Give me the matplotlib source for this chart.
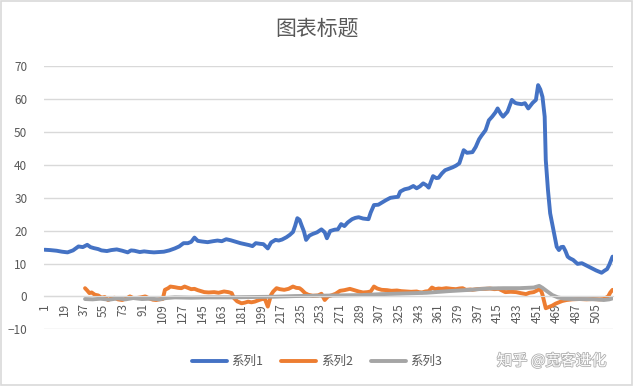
import matplotlib
matplotlib.use("Agg")
import matplotlib.pyplot as plt
import matplotlib.patheffects as pe
from matplotlib.patches import Rectangle

plt.rcParams['font.family'] = ['Noto Sans CJK SC', 'DejaVu Sans']

# category count on the x axis
n_cat = 520
tick_pos = list(range(1, n_cat + 1, 18))

# series 1
s1_x = [1, 6, 12, 17, 22, 27, 32, 36, 40, 43, 46, 50, 53, 58, 62, 67, 72, 77, 80, 83,
        88, 92, 97, 101, 106, 110, 115, 120, 124, 128, 132, 135, 138, 141, 145, 150, 155,
        159, 163, 167, 171, 175, 180, 184, 188, 191, 194, 198, 201, 205, 208, 212, 215,
        218, 222, 225, 228, 230, 232, 234, 236, 238, 240, 243, 246, 250, 254, 257, 259,
        262, 266, 269, 272, 275, 278, 282, 285, 288, 292, 297, 299, 302, 306, 309, 313,
        317, 321, 324, 326, 330, 334, 338, 341, 344, 347, 350, 352, 356, 359, 361, 364,
        367, 370, 374, 377, 380, 384, 387, 392, 395, 398, 400, 404, 407, 410, 413, 415,
        418, 420, 424, 426, 428, 431, 433, 437, 440, 443, 447, 450, 452, 454, 456, 458,
        459, 461, 463, 466, 469, 471, 473, 475, 477, 479, 481, 484, 488, 492, 495, 499,
        502, 505, 510, 513, 515, 517, 520]
s1_y = [14.2, 14.1, 13.9, 13.6, 13.4, 14.0, 15.2, 15.0, 15.7, 15.0, 14.7, 14.4, 14.0, 13.8,
        14.1, 14.3, 13.9, 13.4, 14.0, 13.9, 13.5, 13.7, 13.5, 13.4, 13.5, 13.6, 14.0, 14.6,
        15.2, 16.2, 16.2, 16.6, 17.9, 16.9, 16.7, 16.5, 16.8, 17.0, 16.8, 17.4, 17.1, 16.7,
        16.2, 15.9, 15.6, 15.3, 16.2, 16.0, 15.9, 14.6, 16.4, 17.2, 17.0, 17.3, 18.0, 18.7,
        19.6, 21.5, 23.8, 23.3, 21.5, 19.8, 17.2, 18.5, 19.0, 19.5, 20.4, 19.5, 17.7, 19.9,
        20.3, 20.4, 22.0, 21.4, 22.5, 23.5, 23.9, 24.1, 23.7, 23.5, 25.5, 27.8, 27.9, 28.5,
        29.3, 30.0, 30.2, 30.3, 31.9, 32.6, 32.9, 33.6, 32.9, 33.5, 34.4, 33.8, 33.1, 36.6,
        36.0, 36.1, 37.4, 38.4, 38.8, 39.3, 39.8, 40.5, 44.5, 43.7, 43.9, 45.5, 47.8, 48.8,
        50.6, 53.6, 54.7, 56.0, 57.2, 55.5, 54.7, 56.2, 58.0, 59.8, 58.9, 58.7, 58.5, 58.8,
        57.2, 58.9, 59.8, 64.3, 63.0, 60.7, 54.7, 41.5, 32.4, 25.3, 20.2, 15.1, 14.1, 15.0,
        15.1, 13.8, 12.1, 11.6, 11.1, 9.9, 10.1, 9.6, 8.9, 8.4, 7.9, 7.2, 7.9, 8.3, 9.6, 12.1]

# series 2
s2_x = [38, 40, 42, 44, 47, 50, 53, 56, 59, 62, 65, 68, 72, 76, 79, 82, 85, 89, 93, 96,
        100, 103, 106, 109, 111, 114, 116, 120, 123, 126, 129, 132, 135, 138, 141, 144,
        147, 151, 156, 160, 165, 169, 172, 174, 177, 181, 184, 187, 190, 193, 197, 200,
        202, 205, 208, 210, 213, 216, 220, 224, 228, 231, 234, 236, 239, 242, 246, 251,
        254, 257, 260, 263, 267, 271, 275, 280, 284, 288, 292, 296, 299, 302, 305, 309,
        314, 318, 323, 327, 331, 336, 341, 343, 346, 349, 352, 355, 358, 361, 364, 368,
        373, 377, 380, 383, 386, 390, 392, 396, 400, 404, 408, 412, 416, 419, 422, 427,
        432, 436, 441, 444, 448, 451, 453, 455, 456, 459, 462, 465, 468, 471, 474, 478,
        483, 490, 496, 502, 508, 512, 516, 518, 520]
s2_y = [2.5, 1.8, 1.0, 1.2, 0.5, 0.3, -0.4, -0.2, -1.1, -0.6, -0.4, -0.9, -1.1, -0.6, 0.0,
        -0.5, -0.5, -0.3, 0.0, -0.5, -1.0, -1.1, -0.9, -0.8, 2.0, 2.5, 3.0, 2.8, 2.6, 2.5,
        3.0, 2.6, 2.2, 2.3, 1.9, 1.6, 1.3, 1.2, 1.3, 1.1, 1.5, 1.3, 1.0, -0.5, -1.5, -2.1,
        -1.9, -1.6, -1.8, -1.6, -1.1, -0.8, -0.5, -3.1, 0.5, 1.5, 2.5, 2.2, 2.0, 2.3, 3.0,
        2.6, 2.5, 2.0, 1.0, 0.5, 0.2, 0.3, 0.8, -1.1, 0.0, 0.3, 0.8, 1.7, 1.9, 2.3, 1.9,
        1.5, 1.2, 1.3, 1.5, 3.0, 2.4, 2.0, 1.9, 1.7, 1.8, 1.6, 1.5, 1.4, 1.5, 1.3, 1.2, 1.5,
        1.6, 2.7, 2.2, 2.4, 2.3, 2.5, 2.3, 2.2, 2.4, 2.5, 2.0, 2.1, 2.0, 2.2, 2.3, 2.3, 2.4,
        2.2, 2.3, 1.8, 1.3, 1.4, 1.3, 1.0, 0.7, 1.1, 1.3, 1.8, 2.3, 1.5, 0.5, -3.6, -3.2,
        -2.8, -2.2, -1.8, -1.4, -1.1, -0.9, -0.8, -0.9, -0.8, -0.9, -0.8, 0.0, 1.2, 2.0]

# series 3
s3_x = [38, 45, 52, 60, 68, 75, 82, 90, 98, 106, 112, 120, 135, 150, 170, 190, 210, 230,
        250, 270, 290, 310, 330, 350, 370, 390, 405, 420, 435, 448, 453, 456, 460, 465,
        470, 476, 485, 495, 505, 512, 517, 520]
s3_y = [-0.8, -0.9, -0.7, -1.0, -0.6, -0.9, -0.5, -0.8, -0.7, -0.9, -0.5, -0.3, -0.4, -0.3,
        -0.3, -0.2, -0.1, 0.1, 0.2, 0.3, 0.4, 0.7, 0.9, 1.1, 1.6, 2.0, 2.4, 2.5, 2.5, 2.7,
        3.2, 2.6, 1.6, 0.4, -0.3, -0.7, -0.8, -0.8, -0.9, -1.1, -0.9, -0.6]

series_names = ['系列1', '系列2', '系列3']
colors = ['#4472C4', '#ED7D31', '#A5A5A5']
text_color = '#595959'
grid_color = '#D9D9D9'

fig = plt.figure(figsize=(6.34, 3.86), dpi=100)
ax = fig.add_axes([0.0694, 0.147, 0.8976, 0.681])

for xs, ys, name, c in zip([s1_x, s2_x, s3_x], [s1_y, s2_y, s3_y], series_names, colors):
    ax.plot(xs, ys, color=c, lw=2.8, label=name, solid_capstyle='round',
            solid_joinstyle='round')

ax.set_xlim(0.5, n_cat + 0.5)
ax.set_ylim(-10, 70)
ax.set_yticks(range(-10, 71, 10))
ax.yaxis.grid(True, color=grid_color, lw=1)
ax.set_axisbelow(True)

for side in ['top', 'right', 'left']:
    ax.spines[side].set_visible(False)
ax.spines['bottom'].set_position(('data', 0))
ax.spines['bottom'].set_color(grid_color)

ax.set_xticks(tick_pos)
ax.set_xticklabels([str(t) for t in tick_pos], rotation=90)
ax.tick_params(axis='x', length=0, pad=5, labelsize=8.5, labelcolor=text_color)
ax.tick_params(axis='y', length=0, pad=12, labelsize=8.5, labelcolor=text_color)

fig.text(0.5, 0.925, '图表标题', ha='center', va='center', fontsize=15, color=text_color)

fig.legend(loc='center', bbox_to_anchor=(0.5, 0.063), ncol=3, frameon=False,
           fontsize=9, handlelength=2.8, handletextpad=0.4, columnspacing=1.4,
           labelcolor=text_color)

fig.text(0.87, 0.065, '知乎 @宽客进化', ha='center', va='center', fontsize=11,
         color='white', path_effects=[pe.withStroke(linewidth=1.2, foreground='#b0b0b0')])

fig.patches.append(Rectangle((0.002, 0.002), 0.995, 0.996, transform=fig.transFigure,
                             fill=False, edgecolor=grid_color, lw=1.2))

fig.savefig('out.png', dpi=100)
